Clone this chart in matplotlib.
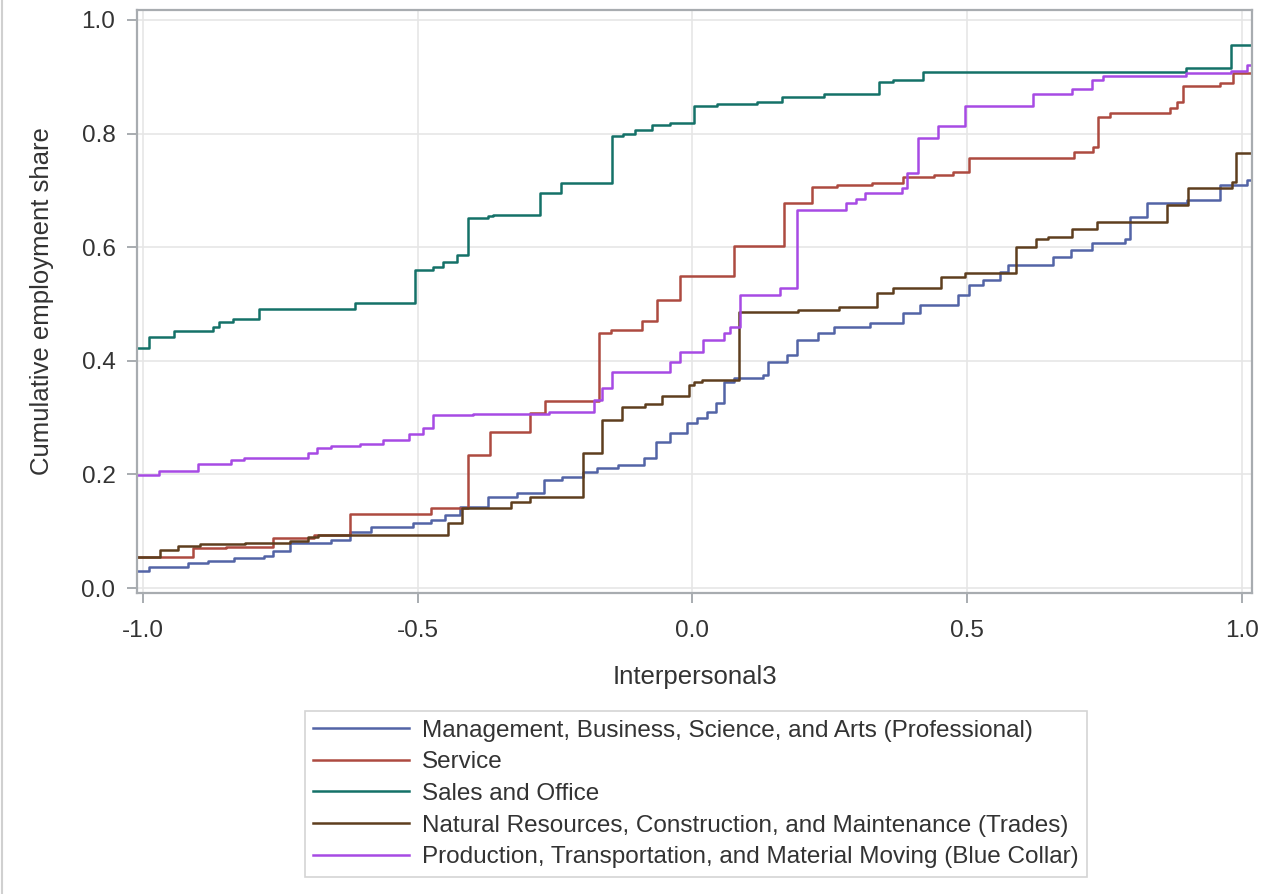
import matplotlib
matplotlib.use("Agg")
import matplotlib.pyplot as plt
from matplotlib.lines import Line2D

plt.rcParams['font.family'] = ['Liberation Sans', 'DejaVu Sans']

labels = [
    "Management, Business, Science, and Arts (Professional)",
    "Service",
    "Sales and Office",
    "Natural Resources, Construction, and Maintenance (Trades)",
    "Production, Transportation, and Material Moving (Blue Collar)",
]
colors = ["#5364a6", "#ad4a40", "#147168", "#5e3e1e", "#a74ae4"]

# Professional (blue)
prof_x = [-1.02, -0.99, -0.918, -0.883, -0.835, -0.781, -0.763, -0.732, -0.659, -0.623,
          -0.586, -0.508, -0.477, -0.450, -0.423, -0.373, -0.319, -0.271, -0.237, -0.199,
          -0.173, -0.135, -0.089, -0.067, -0.040, -0.009, 0.009, 0.027, 0.042, 0.057,
          0.075, 0.129, 0.137, 0.173, 0.191, 0.228, 0.257, 0.324, 0.384, 0.415,
          0.483, 0.503, 0.530, 0.560, 0.575, 0.657, 0.690, 0.728, 0.788, 0.797,
          0.828, 0.900, 0.960, 1.01]
prof_y = [0.030, 0.037, 0.044, 0.048, 0.053, 0.057, 0.066, 0.079, 0.084, 0.099,
          0.107, 0.114, 0.120, 0.128, 0.143, 0.160, 0.167, 0.190, 0.195, 0.204,
          0.211, 0.217, 0.229, 0.257, 0.273, 0.290, 0.300, 0.310, 0.326, 0.363,
          0.370, 0.375, 0.398, 0.410, 0.437, 0.449, 0.460, 0.466, 0.484, 0.498,
          0.516, 0.533, 0.542, 0.556, 0.569, 0.583, 0.595, 0.607, 0.614, 0.653,
          0.678, 0.683, 0.709, 0.718]

# Service (red)
serv_x = [-1.02, -0.909, -0.85, -0.763, -0.69, -0.623, -0.477, -0.408, -0.368, -0.295,
          -0.268, -0.171, -0.149, -0.091, -0.064, -0.022, 0.075, 0.166, 0.218, 0.263,
          0.327, 0.384, 0.439, 0.475, 0.503, 0.694, 0.73, 0.739, 0.761, 0.87,
          0.883, 0.894, 0.961, 0.985]
serv_y = [0.055, 0.070, 0.073, 0.088, 0.093, 0.131, 0.140, 0.234, 0.275, 0.308,
          0.330, 0.449, 0.454, 0.470, 0.507, 0.549, 0.602, 0.678, 0.706, 0.709,
          0.713, 0.724, 0.727, 0.733, 0.757, 0.768, 0.776, 0.830, 0.836, 0.845,
          0.855, 0.883, 0.889, 0.906]

# Sales and Office (teal)
sales_x = [-1.02, -0.99, -0.945, -0.874, -0.862, -0.836, -0.79, -0.614, -0.506, -0.472,
           -0.455, -0.428, -0.408, -0.373, -0.364, -0.277, -0.24, -0.146, -0.126, -0.104,
           -0.073, -0.04, 0.002, 0.045, 0.118, 0.164, 0.239, 0.339, 0.366, 0.419,
           0.898, 0.98]
sales_y = [0.422, 0.442, 0.452, 0.460, 0.468, 0.474, 0.491, 0.502, 0.560, 0.566,
           0.574, 0.586, 0.651, 0.655, 0.657, 0.696, 0.713, 0.796, 0.800, 0.806,
           0.815, 0.818, 0.849, 0.852, 0.856, 0.864, 0.870, 0.891, 0.894, 0.909,
           0.915, 0.956]

# Trades (brown)
trad_x = [-1.02, -0.969, -0.936, -0.896, -0.815, -0.732, -0.701, -0.682, -0.446, -0.419,
          -0.331, -0.295, -0.199, -0.164, -0.128, -0.086, -0.055, -0.007, 0.002, 0.018,
          0.084, 0.193, 0.266, 0.337, 0.366, 0.452, 0.497, 0.590, 0.625, 0.647,
          0.692, 0.737, 0.865, 0.903, 0.983, 0.989]
trad_y = [0.055, 0.067, 0.074, 0.077, 0.079, 0.083, 0.090, 0.094, 0.114, 0.141,
          0.151, 0.160, 0.238, 0.296, 0.319, 0.324, 0.338, 0.357, 0.363, 0.367,
          0.486, 0.490, 0.495, 0.519, 0.528, 0.548, 0.555, 0.601, 0.614, 0.618,
          0.632, 0.645, 0.674, 0.704, 0.715, 0.766]

# Blue Collar (purple)
blue_x = [-1.02, -0.972, -0.901, -0.841, -0.817, -0.701, -0.683, -0.659, -0.605, -0.563,
          -0.517, -0.490, -0.472, -0.40, -0.262, -0.18, -0.164, -0.146, -0.04, -0.022,
          0.02, 0.057, 0.069, 0.087, 0.16, 0.19, 0.279, 0.297, 0.315, 0.382,
          0.391, 0.41, 0.448, 0.497, 0.621, 0.692, 0.728, 0.748, 0.898, 0.98, 1.01]
blue_y = [0.199, 0.206, 0.218, 0.225, 0.229, 0.237, 0.246, 0.250, 0.253, 0.260,
          0.272, 0.281, 0.304, 0.306, 0.310, 0.331, 0.352, 0.380, 0.398, 0.415,
          0.437, 0.449, 0.460, 0.516, 0.528, 0.665, 0.678, 0.685, 0.695, 0.704,
          0.730, 0.793, 0.813, 0.849, 0.870, 0.878, 0.894, 0.901, 0.907, 0.910, 0.920]

series = [(prof_x, prof_y), (serv_x, serv_y), (sales_x, sales_y),
          (trad_x, trad_y), (blue_x, blue_y)]

x_ticks = [-1.0, -0.5, 0.0, 0.5, 1.0]
y_ticks = [0.0, 0.2, 0.4, 0.6, 0.8, 1.0]

FS = 17.5
FS_LAB = 18.5
W, H = 1263, 894
fig = plt.figure(figsize=(W / 100, H / 100), dpi=100)
ax = fig.add_axes([137 / W, 1 - 593 / H, (1252 - 137) / W, (593 - 10) / H])

for (xs, ys), c, lab in zip(series, colors, labels):
    xs_ext = list(xs) + [1.05]
    ys_ext = list(ys) + [ys[-1]]
    ax.plot(xs_ext, ys_ext, drawstyle='steps-post', color=c, lw=1.8, label=lab)

ax.set_xlim(-1.0115, 1.019)
ax.set_ylim(-0.0088, 1.0176)
ax.set_xticks(x_ticks)
ax.set_yticks(y_ticks)
ax.set_xticklabels([f"{v:.1f}" for v in x_ticks])
ax.set_yticklabels([f"{v:.1f}" for v in y_ticks])
ax.grid(True, color='#e6e6e6', lw=1.2)
ax.set_axisbelow(True)
for s in ax.spines.values():
    s.set_color('#a8acb0')
    s.set_linewidth(1.6)
ax.tick_params(axis='both', colors='#a8acb0', labelcolor='#333333',
               labelsize=FS, length=7.5, width=1.4, pad=8)
ax.tick_params(axis='x', pad=12)
ax.set_xlabel("Interpersonal3", fontsize=FS_LAB, color='#333333', labelpad=16.5)
ax.set_ylabel("Cumulative employment share", fontsize=FS_LAB, color='#333333', labelpad=20)

leg = fig.legend(loc='upper center', bbox_to_anchor=(696 / W, 1 - 711 / H),
                 borderaxespad=0, fontsize=FS, frameon=True, fancybox=False,
                 framealpha=1, edgecolor='#d4d4d4', handlelength=3.95,
                 handletextpad=0.53, labelspacing=0.4, borderpad=0.35,
                 labelcolor='#333333')
leg.get_frame().set_linewidth(1.2)

fig.add_artist(Line2D([2 / W, 2 / W], [0, 1], transform=fig.transFigure,
                      color='#d0d0d0', lw=1.5))

fig.savefig("out.png", dpi=100, facecolor='white')
